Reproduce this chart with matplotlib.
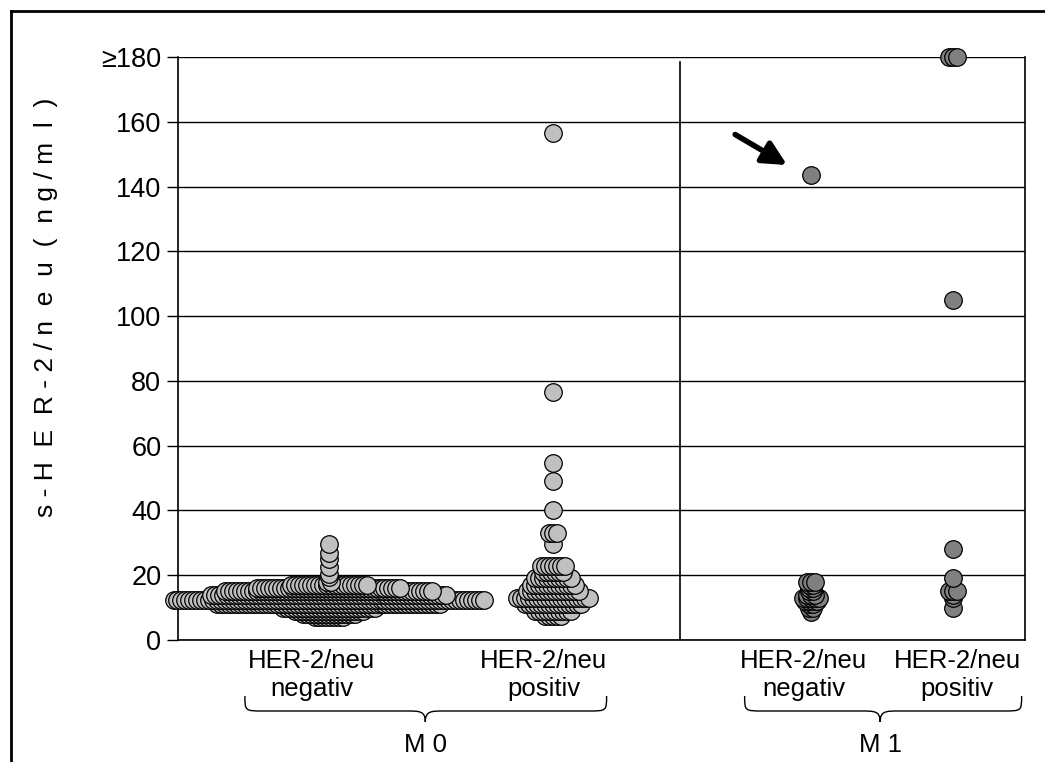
import numpy as np
import matplotlib
matplotlib.use('Agg')
import matplotlib.pyplot as plt
from matplotlib.path import Path
from matplotlib.patches import PathPatch
from matplotlib.lines import Line2D
import matplotlib.transforms as mtransforms

plt.rcParams['font.family'] = ['Liberation Sans', 'DejaVu Sans']

# data: value levels (ng/ml) and how many patients sit on each level
m0_neg_levels = [7, 8, 9, 10, 11, 12.5, 14, 15, 16, 17, 18, 19.5, 20.5, 22.5, 25, 27, 29.5]
m0_neg_counts = [8, 14, 18, 24, 57, 79, 60, 53, 37, 20, 2, 1, 1, 1, 1, 1, 1]

m0_pos_levels = [7.5, 9, 11, 13, 15, 17, 19, 21, 23, 29.5, 33, 40, 49, 54.5, 76.5, 156.5]
m0_pos_counts = [5, 10, 15, 19, 14, 12, 10, 6, 7, 1, 3, 1, 1, 1, 1, 1]

m1_neg_levels = [8.5, 10, 11, 12, 13, 14, 15, 16, 17, 18, 143.5]
m1_neg_counts = [1, 2, 2, 4, 5, 3, 2, 2, 2, 3, 1]

m1_pos_levels = [10, 13, 14, 15, 19, 28, 105, 180]
m1_pos_counts = [1, 1, 1, 3, 1, 1, 1, 3]

group_labels = ['HER-2/neu\nnegativ', 'HER-2/neu\npositiv', 'HER-2/neu\nnegativ', 'HER-2/neu\npositiv']
stage_labels = ['M 0', 'M 1']
yticks = [0, 20, 40, 60, 80, 100, 120, 140, 160, 180]
ytick_labels = ['0', '20', '40', '60', '80', '100', '120', '140', '160', '\u2265180']

# layout (x axis runs 0..100)
centers = [17.8, 44.3, 74.7, 91.5]
label_x = [15.8, 43.2, 73.9, 92.0]
divider_x = 59.3
dx = 0.47
W, H = 1045, 762


def swarm(levels, counts, center):
    xs, ys = [], []
    for v, n in zip(levels, counts):
        off = (np.arange(n) - (n - 1) / 2) * dx
        xs.extend(center + off)
        ys.extend([v] * n)
    return np.array(xs), np.array(ys)


fig = plt.figure(figsize=(W / 100, H / 100), dpi=100)
ax = fig.add_axes([178 / W, 1 - 640 / H, (1025 - 178) / W, (640 - 57) / H])
ax.set_xlim(0, 100)
ax.set_ylim(0, 180)

ax.yaxis.grid(True, color='black', lw=1)
ax.set_axisbelow(True)
ax.set_xticks([])
ax.set_yticks(yticks)
ax.set_yticklabels(ytick_labels)
ax.tick_params(axis='y', direction='out', length=8, width=1, labelsize=19.5, pad=4)
ax.spines['top'].set_visible(False)
for s in ['left', 'right', 'bottom']:
    ax.spines[s].set_linewidth(1.2)

ax.axvline(divider_x, ymin=0, ymax=178.5 / 180, color='black', lw=1.2)

groups = [(m0_neg_levels, m0_neg_counts, '#C0C0C0'),
          (m0_pos_levels, m0_pos_counts, '#C0C0C0'),
          (m1_neg_levels, m1_neg_counts, '#808080'),
          (m1_pos_levels, m1_pos_counts, '#808080')]
for (lv, ct, col), c in zip(groups, centers):
    x, y = swarm(lv, ct, c)
    ax.scatter(x, y, s=160, color=col, edgecolor='black', linewidth=0.9,
               clip_on=False, zorder=3)

ax.set_ylabel('s - H  E  R - 2 / n  e  u  (  n g / m  l  )', fontsize=19)
ax.yaxis.set_label_coords(-0.142, 0.57)

# arrow pointing at the M1 negative outlier
ax.annotate('', xy=(72.2, 146.2), xytext=(65.5, 156.5),
            arrowprops=dict(arrowstyle='-|>', lw=4, color='black', mutation_scale=36))

# labels and braces below the axis
trans = mtransforms.blended_transform_factory(ax.transData, fig.transFigure)
narrow = ['Liberation Sans Narrow', 'Liberation Sans']
for x, lab in zip(label_x, group_labels):
    ax.text(x, 1 - 675 / H, lab, transform=trans, ha='center', va='center',
            fontsize=18.5, family=narrow, linespacing=1.2, multialignment='center')


def brace(x0, x1, xt):
    yt, ym, yb = 1 - 696 / H, 1 - 711 / H, 1 - 722 / H
    r = 2.2
    verts = [(x0, yt), (x0, ym), (x0, ym), (x0 + r, ym),
             (xt - r, ym),
             (xt - 0.3 * r, ym), (xt, ym), (xt, yb),
             (xt, ym), (xt + 0.3 * r, ym), (xt + r, ym),
             (x1 - r, ym),
             (x1, ym), (x1, ym), (x1, yt)]
    codes = [Path.MOVETO, Path.CURVE4, Path.CURVE4, Path.CURVE4,
             Path.LINETO,
             Path.CURVE4, Path.CURVE4, Path.CURVE4,
             Path.CURVE4, Path.CURVE4, Path.CURVE4,
             Path.LINETO,
             Path.CURVE4, Path.CURVE4, Path.CURVE4]
    p = PathPatch(Path(verts, codes), transform=trans, fill=False, lw=1, color='black',
                  clip_on=False)
    fig.add_artist(p)


brace(7.9, 50.6, 29.2)
brace(66.9, 99.6, 82.9)
for x, lab in zip([29.2, 82.9], stage_labels):
    ax.text(x, 1 - 745 / H, lab, transform=trans, ha='center', va='center',
            fontsize=18.5, family=narrow)

# outer frame (left and top edges)
fig.add_artist(Line2D([11 / W, 11 / W], [0, 1 - 11 / H], color='black', lw=2))
fig.add_artist(Line2D([11 / W, 1], [1 - 11 / H, 1 - 11 / H], color='black', lw=2))

fig.savefig('out.png', dpi=100)
